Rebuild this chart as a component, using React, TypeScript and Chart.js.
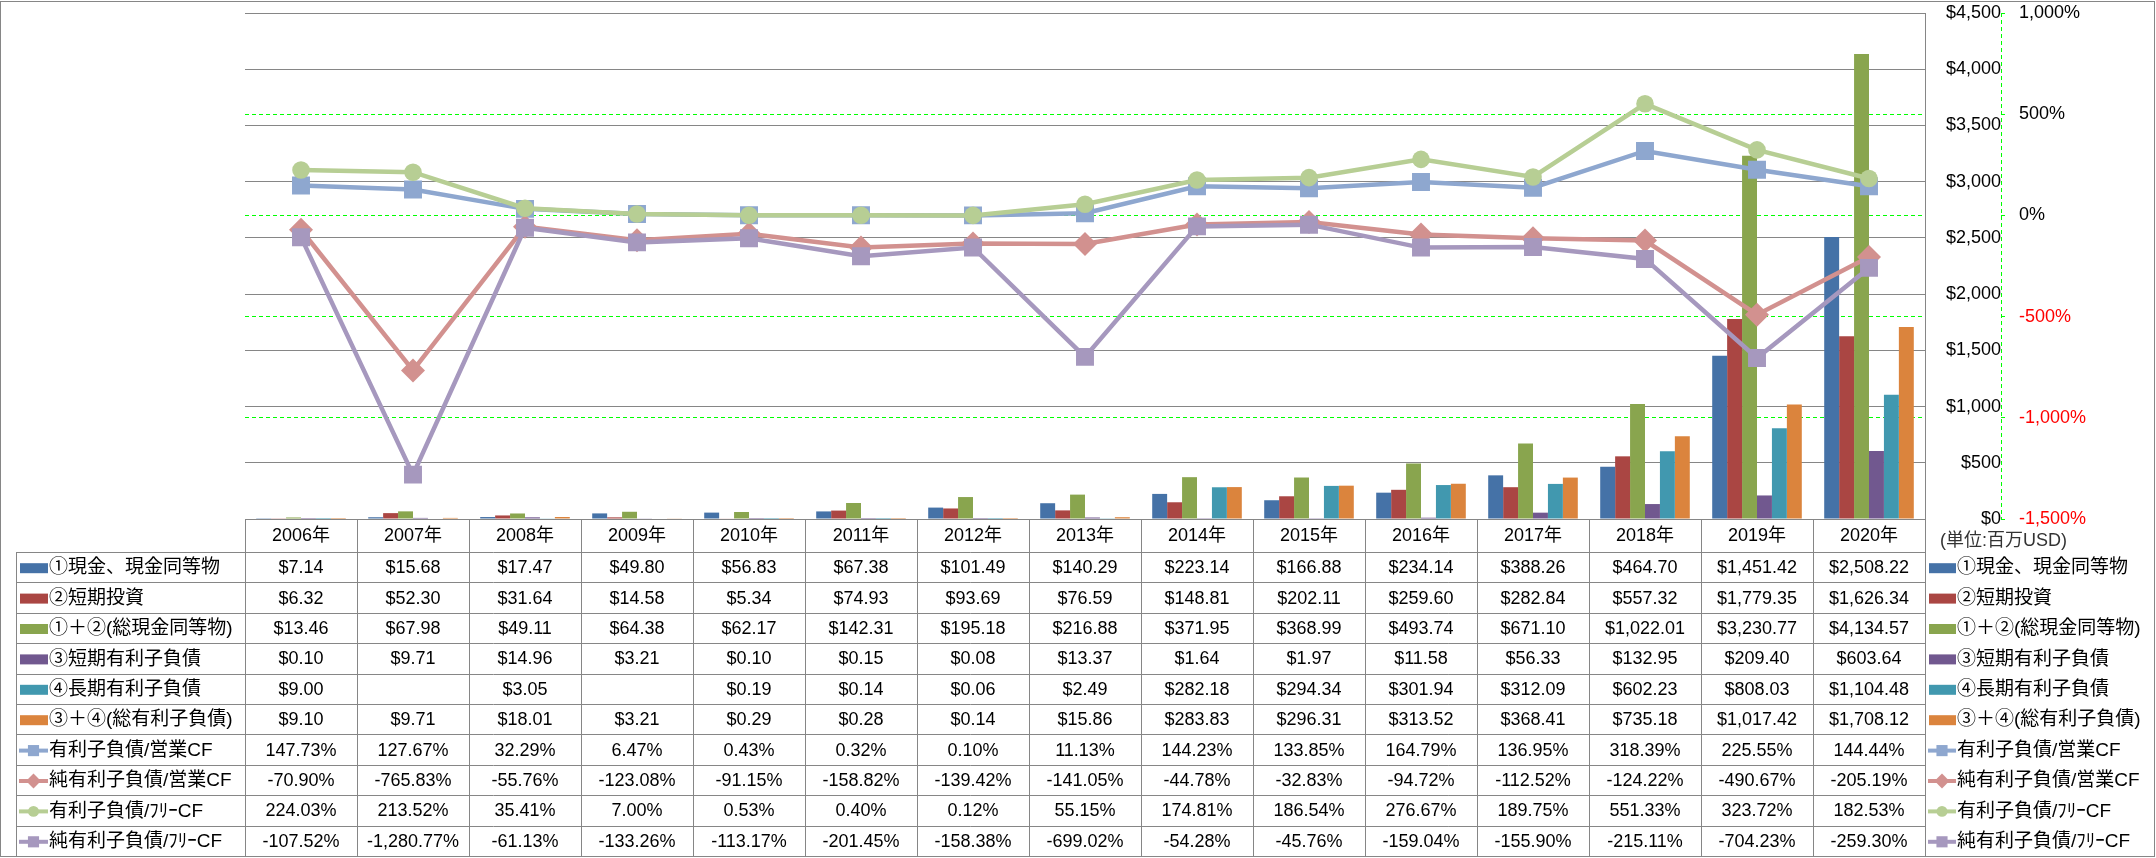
import React, { useEffect, useRef } from 'react';
import { Chart, registerables } from 'chart.js';

Chart.register(...registerables);

const years = ['2006', '2007', '2008', '2009', '2010', '2011', '2012', '2013', '2014', '2015', '2016', '2017', '2018', '2019', '2020'];

const cash = [7.14, 15.68, 17.47, 49.8, 56.83, 67.38, 101.49, 140.29, 223.14, 166.88, 234.14, 388.26, 464.7, 1451.42, 2508.22];
const shortInvest = [6.32, 52.3, 31.64, 14.58, 5.34, 74.93, 93.69, 76.59, 148.81, 202.11, 259.6, 282.84, 557.32, 1779.35, 1626.34];
const totalCash = [13.46, 67.98, 49.11, 64.38, 62.17, 142.31, 195.18, 216.88, 371.95, 368.99, 493.74, 671.1, 1022.01, 3230.77, 4134.57];
const shortDebt = [0.1, 9.71, 14.96, 3.21, 0.1, 0.15, 0.08, 13.37, 1.64, 1.97, 11.58, 56.33, 132.95, 209.4, 603.64];
const longDebt = [9.0, null, 3.05, null, 0.19, 0.14, 0.06, 2.49, 282.18, 294.34, 301.94, 312.09, 602.23, 808.03, 1104.48];
const totalDebt = [9.1, 9.71, 18.01, 3.21, 0.29, 0.28, 0.14, 15.86, 283.83, 296.31, 313.52, 368.41, 735.18, 1017.42, 1708.12];

const debtToOcf = [147.73, 127.67, 32.29, 6.47, 0.43, 0.32, 0.1, 11.13, 144.23, 133.85, 164.79, 136.95, 318.39, 225.55, 144.44];
const netDebtToOcf = [-70.9, -765.83, -55.76, -123.08, -91.15, -158.82, -139.42, -141.05, -44.78, -32.83, -94.72, -112.52, -124.22, -490.67, -205.19];
const debtToFcf = [224.03, 213.52, 35.41, 7.0, 0.53, 0.4, 0.12, 55.15, 174.81, 186.54, 276.67, 189.75, 551.33, 323.72, 182.53];
const netDebtToFcf = [-107.52, -1280.77, -61.13, -133.26, -113.17, -201.45, -158.38, -699.02, -54.28, -45.76, -159.04, -155.9, -215.11, -704.23, -259.3];

const barLabels = ['①現金、現金同等物', '②短期投資', '①＋②(総現金同等物)', '③短期有利子負債', '④長期有利子負債', '③＋④(総有利子負債)'];
const lineLabels = ['有利子負債/営業CF', '純有利子負債/営業CF', '有利子負債/ﾌﾘｰCF', '純有利子負債/ﾌﾘｰCF'];
const unitLabel = '(単位:百万USD)';

const FONT = "'Liberation Sans', 'Noto Sans CJK JP', sans-serif";
const GRAY = '#868686';
const LIME = '#00FF00';

const fmt2 = (v: number) => v.toLocaleString('en-US', { minimumFractionDigits: 2, maximumFractionDigits: 2 });
const fmtMoney = (v: number | null) => (v === null || v === undefined ? '' : '$' + fmt2(v));
const fmtPct = (v: number | null) => (v === null || v === undefined ? '' : fmt2(v) + '%');

function drawMarker(ctx: CanvasRenderingContext2D, style: string, x: number, y: number, r: number, color: string) {
  ctx.fillStyle = color;
  ctx.beginPath();
  if (style === 'circle') {
    ctx.arc(x, y, r, 0, Math.PI * 2);
  } else if (style === 'rectRot') {
    ctx.moveTo(x, y - r);
    ctx.lineTo(x + r, y);
    ctx.lineTo(x, y + r);
    ctx.lineTo(x - r, y);
    ctx.closePath();
  } else {
    const s = r * Math.SQRT1_2;
    ctx.rect(x - s, y - s, 2 * s, 2 * s);
  }
  ctx.fill();
}

function drawKey(ctx: CanvasRenderingContext2D, ds: any, x0: number, x1: number, y: number) {
  if (ds.type === 'line') {
    ctx.strokeStyle = ds.borderColor;
    ctx.lineWidth = 4;
    ctx.beginPath();
    ctx.moveTo(x0, y);
    ctx.lineTo(x1, y);
    ctx.stroke();
    drawMarker(ctx, ds.pointStyle, (x0 + x1) / 2, y, ds.pointRadius * 0.62, ds.backgroundColor);
  } else {
    ctx.fillStyle = ds.backgroundColor;
    ctx.fillRect(x0 + 1, y - 5, x1 - x0 - 1, 10);
  }
}

const tablePlugin = {
  id: 'dataTable',
  afterDraw(chart: any) {
    const ctx: CanvasRenderingContext2D = chart.ctx;
    const area = chart.chartArea;
    const xs = chart.scales.x;
    const y1 = chart.scales.y1;
    const labels: string[] = chart.data.labels;
    const n = labels.length;
    const colW = xs.getPixelForValue(1) - xs.getPixelForValue(0);
    const dsets = chart.data.datasets;
    const headerTop = area.bottom;
    const headerH = 33;
    const rowTop = headerTop + headerH;
    const rowH = 30.4;
    const tableBottom = rowTop + rowH * dsets.length;
    const labelLeft = 16;

    ctx.save();
    // outer chart border
    ctx.strokeStyle = GRAY;
    ctx.lineWidth = 1;
    ctx.strokeRect(0.5, 1.5, chart.width - 2, chart.height - 3);

    // dashed secondary axis line
    ctx.strokeStyle = LIME;
    ctx.setLineDash([4, 3]);
    const ax = Math.round(y1.left) + 0.5;
    ctx.beginPath();
    ctx.moveTo(ax, area.top);
    ctx.lineTo(ax, area.bottom);
    ctx.stroke();
    ctx.setLineDash([]);

    // table grid
    ctx.strokeStyle = GRAY;
    ctx.lineWidth = 1;
    ctx.beginPath();
    for (let k = 0; k <= n; k++) {
      const x = Math.round(xs.getPixelForValue(0) - colW / 2 + k * colW) + 0.5;
      ctx.moveTo(x, headerTop);
      ctx.lineTo(x, tableBottom);
    }
    for (let i = 0; i <= dsets.length; i++) {
      const y = Math.round(rowTop + i * rowH) + 0.5;
      ctx.moveTo(labelLeft, y);
      ctx.lineTo(area.right + 0.5, y);
    }
    ctx.moveTo(labelLeft + 0.5, rowTop);
    ctx.lineTo(labelLeft + 0.5, tableBottom);
    ctx.stroke();

    ctx.textBaseline = 'middle';
    ctx.fillStyle = '#000';
    // header
    ctx.font = `18px ${FONT}`;
    ctx.textAlign = 'center';
    for (let k = 0; k < n; k++) {
      ctx.fillText(labels[k], xs.getPixelForValue(k), headerTop + headerH / 2 + 1);
    }
    // unit label
    ctx.textAlign = 'left';
    ctx.fillStyle = '#333';
    ctx.font = `18px ${FONT}`;
    ctx.fillText(unitLabel, area.right + 15, headerTop + headerH / 2 + 6);

    // rows
    dsets.forEach((ds: any, i: number) => {
      const cy = rowTop + rowH * i + rowH / 2 + 1;
      drawKey(ctx, ds, 19, 48, cy);
      ctx.fillStyle = '#000';
      ctx.font = `19px ${FONT}`;
      ctx.textAlign = 'left';
      ctx.fillText(ds.label, 49, cy);
      drawKey(ctx, ds, area.right + 3, area.right + 31, cy);
      ctx.fillStyle = '#000';
      ctx.fillText(ds.label, area.right + 32, cy);
      ctx.font = `18px ${FONT}`;
      ctx.textAlign = 'center';
      for (let k = 0; k < n; k++) {
        const v = ds.data[k];
        const txt = ds.type === 'line' ? fmtPct(v) : fmtMoney(v);
        ctx.fillText(txt, xs.getPixelForValue(k), cy);
      }
    });
    ctx.restore();
  },
};

export default function App() {
  const ref = useRef<HTMLCanvasElement | null>(null);

  useEffect(() => {
    document.body.style.margin = '0';
    const canvas = ref.current;
    if (!canvas) return;

    const bar = (label: string, data: (number | null)[], color: string) => ({
      type: 'bar' as const,
      label,
      data,
      backgroundColor: color,
      borderWidth: 0,
      yAxisID: 'y',
      order: 10,
      barPercentage: 1,
      categoryPercentage: 0.8,
    });
    const line = (label: string, data: number[], color: string, pointStyle: string, radius: number, order: number) => ({
      type: 'line' as const,
      label,
      data,
      borderColor: color,
      backgroundColor: color,
      pointBackgroundColor: color,
      pointBorderColor: color,
      pointBorderWidth: 0,
      borderWidth: 4.5,
      pointStyle,
      pointRadius: radius,
      tension: 0,
      yAxisID: 'y1',
      order,
    });

    const noPad = (s: any, w: number) => {
      s.width = w;
      s.paddingTop = 0;
      s.paddingBottom = 0;
    };

    const chart = new Chart(canvas, {
      type: 'bar',
      data: {
        labels: years.map((y) => y + '年'),
        datasets: [
          bar(barLabels[0], cash, '#4572A7'),
          bar(barLabels[1], shortInvest, '#AA4643'),
          bar(barLabels[2], totalCash, '#89A54E'),
          bar(barLabels[3], shortDebt, '#71588F'),
          bar(barLabels[4], longDebt, '#4198AF'),
          bar(barLabels[5], totalDebt, '#DB843D'),
          line(lineLabels[0], debtToOcf, '#8EA7CF', 'rect', 12.7, 4),
          line(lineLabels[1], netDebtToOcf, '#D2918F', 'rectRot', 12, 3),
          line(lineLabels[2], debtToFcf, '#B7CE94', 'circle', 8.8, 2),
          line(lineLabels[3], netDebtToFcf, '#A698BE', 'rect', 12.7, 1),
        ] as any,
      },
      options: {
        responsive: false,
        animation: false,
        layout: { padding: { left: 245, top: 13, right: 25, bottom: 339 } },
        plugins: { legend: { display: false }, tooltip: { enabled: false } },
        scales: {
          x: { display: false, offset: true },
          y: {
            position: 'right',
            min: 0,
            max: 4500,
            ticks: {
              stepSize: 500,
              color: '#000',
              font: { family: FONT, size: 18 },
              crossAlign: 'far',
              padding: 18,
              callback: (v: any) => '$' + Number(v).toLocaleString('en-US'),
            },
            grid: { color: GRAY, drawTicks: false, lineWidth: 1 },
            border: { color: GRAY },
            afterFit: (s: any) => noPad(s, 76),
          },
          y1: {
            position: 'right',
            min: -1500,
            max: 1000,
            ticks: {
              stepSize: 500,
              font: { family: FONT, size: 18 },
              color: (c: any) => (c.tick && c.tick.value < 0 ? '#FF0000' : '#000'),
              padding: 14,
              callback: (v: any) => Number(v).toLocaleString('en-US') + '%',
            },
            grid: {
              color: (c: any) => (c.tick && (c.tick.value === 1000 || c.tick.value === -1500) ? 'rgba(0,0,0,0)' : LIME),
              drawTicks: true,
              tickLength: 4,
              tickColor: LIME,
              lineWidth: 1,
            },
            border: { display: false, dash: [4, 3] },
            afterFit: (s: any) => noPad(s, 130),
          },
        },
      } as any,
      plugins: [tablePlugin],
    });

    return () => chart.destroy();
  }, []);

  return <canvas ref={ref} width={2156} height={858} style={{ display: 'block' }} />;
}
